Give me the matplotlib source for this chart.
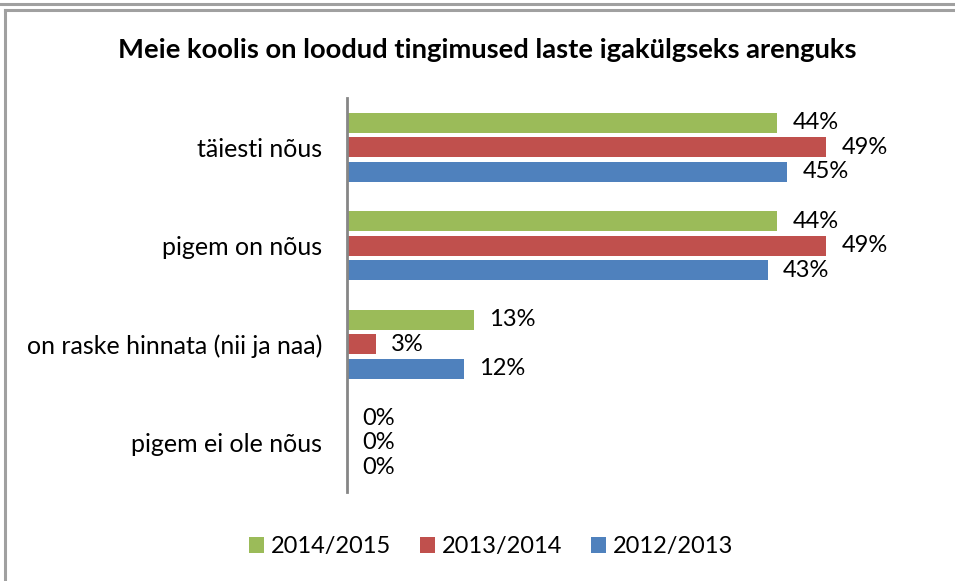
import matplotlib
matplotlib.use("Agg")
import matplotlib.pyplot as plt
import numpy as np
from matplotlib.lines import Line2D

categories = ["täiesti nõus", "pigem on nõus", "on raske hinnata (nii ja naa)", "pigem ei ole nõus"]
series_names = ["2014/2015", "2013/2014", "2012/2013"]
values_2014_2015 = [44, 44, 13, 0]
values_2013_2014 = [49, 49, 3, 0]
values_2012_2013 = [45, 43, 12, 0]
colors = ["#9BBB59", "#C0504D", "#4F81BD"]
title = "Meie koolis on loodud tingimused laste igakülgseks arenguks"

plt.rcParams['font.family'] = ['Lato', 'DejaVu Sans']

W, H = 955, 581
fig = plt.figure(figsize=(W/100, H/100), dpi=100)

# outer frame lines
fig.add_artist(Line2D([0, 1], [1-4/H, 1-4/H], transform=fig.transFigure, color="#A0A0A0", lw=2.2))
fig.add_artist(Line2D([5/W, 1], [1-10/H, 1-10/H], transform=fig.transFigure, color="#A0A0A0", lw=2.2))
fig.add_artist(Line2D([5/W, 5/W], [1-10/H, 0], transform=fig.transFigure, color="#A0A0A0", lw=2.2))

ax_left, ax_right = 347/W, 934/W
ax_top, ax_bot = 1-98/H, 1-492/H
ax = fig.add_axes([ax_left, ax_bot, ax_right-ax_left, ax_top-ax_bot])

y = np.arange(len(categories))
all_vals = [values_2014_2015, values_2013_2014, values_2012_2013]
offsets = [-0.25, 0.0, 0.25]
handles = []
for vals, off, c, name in zip(all_vals, offsets, colors, series_names):
    bars = ax.barh(y + off, vals, height=0.205, color=c, label=name)
    handles.append(bars)
    for yy, v in zip(y + off, vals):
        ax.annotate(f"{v}%", xy=(v, yy), xytext=(15, 0), textcoords="offset pixels",
                    ha="left", va="center", fontsize=17, color="black")

ax.set_xlim(0, 60)
ax.set_ylim(len(categories)-0.5, -0.5)
ax.set_yticks(y)
ax.set_yticklabels(categories, fontsize=18)
ax.tick_params(axis='y', length=0, pad=18)
ax.set_xticks([])
for s in ["top", "right", "bottom"]:
    ax.spines[s].set_visible(False)
ax.spines["left"].set_color("#868686")
ax.spines["left"].set_linewidth(2)

fig.text(487/W, 1-50/H, title, ha="center", va="center", fontsize=19.7, fontweight="bold")

fig.legend(handles=handles, labels=series_names, loc="center", bbox_to_anchor=(491/W, 1-547/H),
           ncol=3, frameon=False, fontsize=17, handlelength=0.65, handleheight=0.65,
           handletextpad=0.3, columnspacing=1.2)

fig.savefig("out.png", dpi=100)
